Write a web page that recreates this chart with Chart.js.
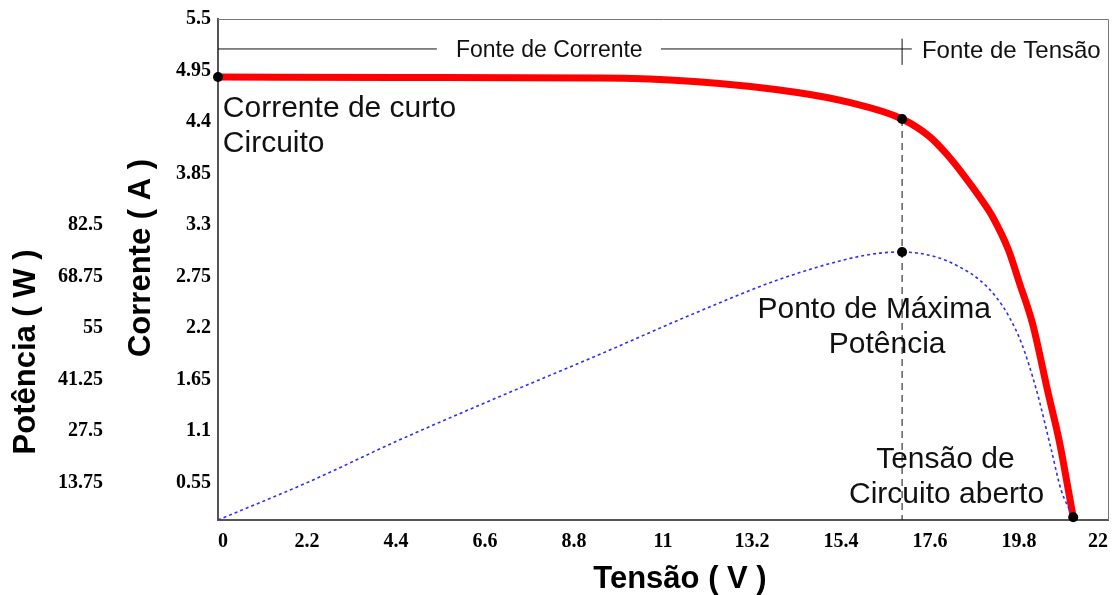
<!DOCTYPE html>
<html lang="pt-BR">
<head>
<meta charset="utf-8">
<title>Curva I-V e P-V do módulo</title>
<script src="https://cdn.jsdelivr.net/npm/chart.js@4.4.1/dist/chart.umd.min.js"></script>
<style>
    html, body { margin: 0; padding: 0; background: #fff; }
</style>
</head>
<body>
<canvas id="grafico" width="1118" height="595"></canvas>
<script>
/* -------------------- DADOS -------------------- */
const tensaoTicks = [0, 2.2, 4.4, 6.6, 8.8, 11, 13.2, 15.4, 17.6, 19.8, 22];
const correnteTicks = [0.55, 1.1, 1.65, 2.2, 2.75, 3.3, 3.85, 4.4, 4.95, 5.5];
const potenciaTicks = [13.75, 27.5, 41.25, 55, 68.75, 82.5];

// curva I-V (vermelha)
const ivTensao   = [0, 4.48, 9.40, 11.86, 14.32, 15.55, 16.91, 17.60, 18.01, 18.43, 18.88, 19.15, 19.54, 19.81, 20.13, 20.52, 20.79, 21.02, 21.14];
const ivCorrente = [4.88, 4.875, 4.87, 4.83, 4.715, 4.614, 4.432, 4.24, 4.058, 3.834, 3.567, 3.386, 3.033, 2.681, 2.254, 1.506, 1.004, 0.47, 0.18];

// curva P-V (azul pontilhada)
const pvTensao   = [0, 2.26, 4.48, 6.94, 9.40, 11.86, 13.83, 15.55, 16.36, 16.91, 17.77, 18.33, 18.83, 19.24, 19.56, 19.86, 20.23, 20.60, 20.84, 21.14];
const pvPotencia = [3.75, 14.0, 25.1, 36.6, 47.8, 59.3, 67.8, 73.4, 75.0, 75.3, 73.9, 71.3, 67.8, 63.2, 57.9, 51.0, 38.5, 22.4, 11.8, 4.5];

const idxMpp = 6;      // ponto de máxima potência na curva I-V
const idxMppP = 9;     // mesmo ponto na curva P-V

// faixa "Fonte de Corrente / Fonte de Tensão"
const faixaCorrente = 5.18;
const faixaTrechos = [[0, 5.41], [10.95, 17.15]];

/* -------------------- MONTAGEM -------------------- */
const pts = (xs, ys) => xs.map((x, i) => ({ x, y: ys[i] }));
const ultimo = ivTensao.length - 1;

const serif = '"Liberation Serif", "Times New Roman", serif';
const sans = '"Liberation Sans", Arial, sans-serif';

const notas = [
    { texto: 'Corrente de curto', x: 0.12, y: 4.453, align: 'left', tam: 30 },
    { texto: 'Circuito', x: 0.12, y: 4.08, align: 'left', tam: 30 },
    { texto: 'Ponto de Máxima', x: 16.22, y: 2.307, align: 'center', tam: 30 },
    { texto: 'Potência', x: 16.54, y: 1.933, align: 'center', tam: 30 },
    { texto: 'Tensão de', x: 17.98, y: 0.705, align: 'center', tam: 30 },
    { texto: 'Circuito aberto', x: 18.01, y: 0.331, align: 'center', tam: 30 },
    { texto: 'Fonte de Corrente', x: 8.19, y: 5.094, align: 'center', tam: 23 },
    { texto: 'Fonte de Tensão', x: 17.40, y: 5.083, align: 'left', tam: 24 }
];

const pluginTextos = {
    id: 'textos',
    afterDatasetsDraw(chart) {
        const { ctx, scales } = chart;
        ctx.save();
        ctx.fillStyle = '#111';
        ctx.textBaseline = 'alphabetic';
        notas.forEach(n => {
            ctx.font = `${n.tam}px ${sans}`;
            ctx.textAlign = n.align;
            ctx.fillText(n.texto, scales.x.getPixelForValue(n.x), scales.y.getPixelForValue(n.y));
        });

        // moldura superior e direita
        const a = chart.chartArea;
        ctx.strokeStyle = '#777';
        ctx.lineWidth = 1;
        ctx.beginPath();
        ctx.moveTo(a.left, a.top + 0.5);
        ctx.lineTo(a.right + 0.5, a.top + 0.5);
        ctx.lineTo(a.right + 0.5, a.bottom);
        ctx.stroke();

        // títulos dos eixos
        ctx.fillStyle = '#000';
        ctx.font = `bold 31px ${sans}`;
        ctx.textAlign = 'center';
        ctx.fillText('Tensão ( V )', 680, 588);
        ctx.textBaseline = 'middle';
        [['Corrente ( A )', 141, 258], ['Potência ( W )', 26, 352]].forEach(([t, x, y]) => {
            ctx.save();
            ctx.translate(x, y);
            ctx.rotate(-Math.PI / 2);
            ctx.fillText(t, 0, 0);
            ctx.restore();
        });
        ctx.restore();
    }
};

const fmt = v => String(+Number(v).toFixed(2));
const tickFont = { family: serif, size: 20, weight: 'bold' };

const guia = (data, dash) => ({
    data, yAxisID: 'y', borderColor: '#111', borderWidth: 1,
    borderDash: dash, pointRadius: 0, tension: 0, fill: false
});

new Chart(document.getElementById('grafico'), {
    type: 'line',
    data: {
        datasets: [
            {
                type: 'scatter', yAxisID: 'y', clip: false,
                data: [0, idxMpp, ultimo].map(i => ({ x: ivTensao[i], y: ivCorrente[i] })),
                pointRadius: 5, pointBackgroundColor: '#000', pointBorderWidth: 0, showLine: false
            },
            {
                type: 'scatter', yAxisID: 'y1', clip: false,
                data: [{ x: pvTensao[idxMppP], y: pvPotencia[idxMppP] }],
                pointRadius: 5, pointBackgroundColor: '#000', pointBorderWidth: 0, showLine: false
            },
            {
                label: 'Potência', yAxisID: 'y1', data: pts(pvTensao, pvPotencia),
                borderColor: 'rgb(45,45,255)', borderWidth: 1.6, borderDash: [3, 3],
                pointRadius: 0, cubicInterpolationMode: 'monotone', fill: false
            },
            {
                label: 'Corrente', yAxisID: 'y', data: pts(ivTensao, ivCorrente),
                borderColor: 'rgb(255,0,0)', borderWidth: 7, borderCapStyle: 'round',
                pointRadius: 0, cubicInterpolationMode: 'monotone', fill: false
            },
            guia([{ x: ivTensao[idxMpp], y: ivCorrente[idxMpp] }, { x: ivTensao[idxMpp], y: 0 }], [7, 5]),
            ...faixaTrechos.map(([a, b]) => guia([{ x: a, y: faixaCorrente }, { x: b, y: faixaCorrente }], [])),
            guia([{ x: ivTensao[idxMpp], y: 5.01 }, { x: ivTensao[idxMpp], y: 5.29 }], [])
        ]
    },
    options: {
        responsive: false,
        animation: false,
        layout: { padding: { top: 19, right: 6, bottom: 0, left: 0 } },
        plugins: { legend: { display: false }, tooltip: { enabled: false } },
        scales: {
            x: {
                type: 'linear', min: 0, max: 22,
                afterBuildTicks: s => { s.ticks = tensaoTicks.map(v => ({ value: v })); },
                afterFit: s => { s.height = 75; },
                grid: { display: false, drawTicks: false },
                border: { display: true, color: '#555', width: 2 },
                ticks: { font: tickFont, color: '#000', padding: 10, maxRotation: 0, autoSkip: false, align: 'inner', callback: fmt }
            },
            y: {
                position: 'left', weight: 0, min: 0.15, max: 5.5,
                afterBuildTicks: s => { s.ticks = correnteTicks.map(v => ({ value: v })); },
                afterFit: s => { s.width = 108; },
                grid: { display: false, drawTicks: false },
                border: { display: true, color: '#555', width: 2 },
                ticks: { font: tickFont, color: '#000', padding: 7, autoSkip: false, callback: fmt }
            },
            y1: {
                position: 'left', weight: 1, min: 3.75, max: 137.5,
                afterBuildTicks: s => { s.ticks = potenciaTicks.map(v => ({ value: v })); },
                afterFit: s => { s.width = 110; },
                grid: { display: false, drawTicks: false },
                border: { display: false },
                ticks: { font: tickFont, color: '#000', padding: 7, autoSkip: false, callback: fmt }
            }
        }
    },
    plugins: [pluginTextos]
});
</script>
</body>
</html>
